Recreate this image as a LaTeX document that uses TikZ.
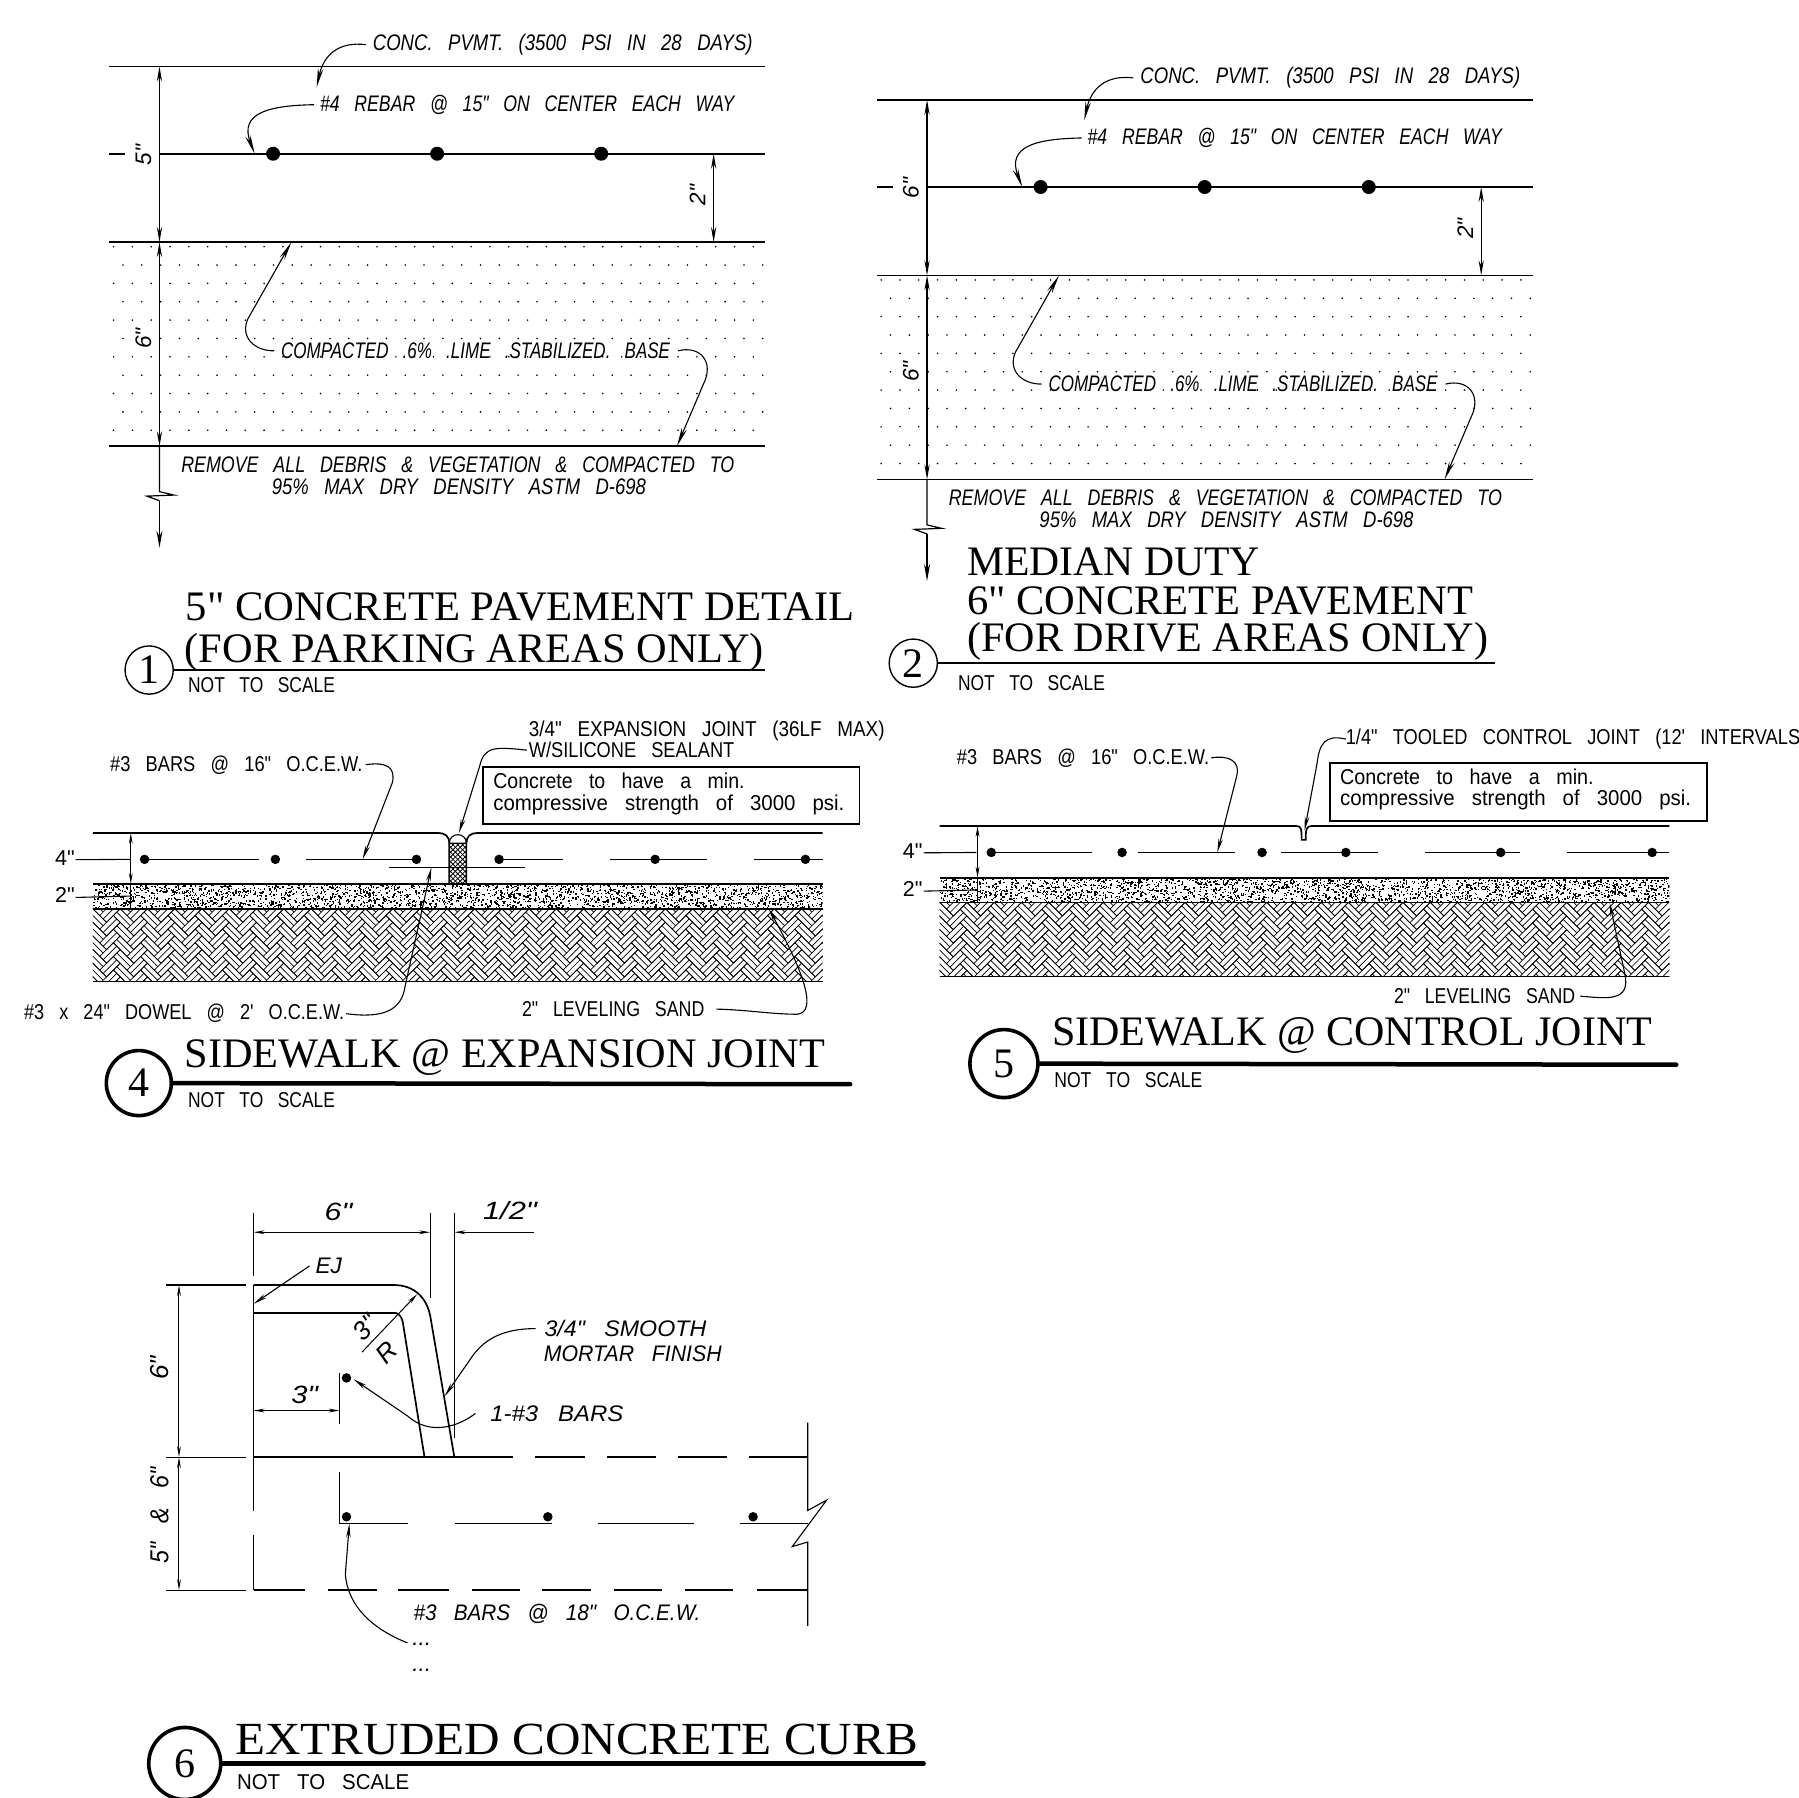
\documentclass[tikz,border=0pt]{standalone}
\usepackage{graphicx}
\usepackage{fontspec}
\usetikzlibrary{arrows.meta}
\newfontfamily\cad[WordSpace=3]{Liberation Sans}
\newfontfamily\ttlf{Liberation Serif}
\newlength\ovu \setlength\ovu{1.1473pt}
\newcommand\W[2]{\resizebox{#1\ovu}{\height}{#2}}
\tikzset{
  main/.style={line width=1.7pt},
  thin line/.style={line width=1.1pt},
  heavy/.style={line width=2.2pt},
  titlebar/.style={line width=4.5pt,line cap=round},
  dimn/.style={line width=1pt,{Stealth[length=11pt,width=3.8pt]}-{Stealth[length=11pt,width=3.8pt]}},
  dimend/.style={line width=1pt,-{Stealth[length=11pt,width=3.8pt]}},
  bigdim/.style={line width=1.2pt,{Stealth[length=15pt,width=5.2pt]}-{Stealth[length=15pt,width=5.2pt]}},
  bigdimend/.style={line width=1.2pt,-{Stealth[length=17pt,width=6pt]}},
  ldr/.style={line width=1.1pt,-{Stealth[length=19pt,width=5.5pt]}},
  ldrs/.style={line width=1.1pt,-{Stealth[length=14pt,width=4.5pt]}},
  it/.style={inner sep=0,outer sep=0,anchor=base west,font=\cad\itshape\fontsize{22.5}{24}\selectfont},
  bigit/.style={inner sep=0,outer sep=0,anchor=base west,font=\cad\itshape\fontsize{25}{26}\selectfont},
  up/.style={inner sep=0,outer sep=0,anchor=base west,font=\cad\fontsize{21.5}{24}\selectfont},
  rot/.style={inner sep=0,outer sep=0,rotate=90,font=\cad\itshape\fontsize{22.5}{24}\selectfont},
  bigrot/.style={inner sep=0,outer sep=0,rotate=90,font=\cad\itshape\fontsize{26}{28}\selectfont},
  ttl/.style={inner sep=0,outer sep=0,anchor=base west,font=\ttlf\fontsize{42}{44}\selectfont},
  bubble/.style={circle,draw,inner sep=0,minimum size=48.2pt,line width=1.4pt,font=\ttlf\fontsize{42}{44}\selectfont},
  bigbubble/.style={circle,draw,inner sep=0,minimum size=67pt,line width=3.6pt,font=\ttlf\fontsize{42}{44}\selectfont},
  rebar/.style={circle,fill,inner sep=0,minimum size=9.5pt},
  bigrebar/.style={circle,fill,inner sep=0,minimum size=14pt},
}
% slab layers: x0, band top, band bottom, hatch bottom
\newcommand\slablayers[4]{%
  \begin{scope}
    \clip (#1,#2) rectangle ++(636,#3-#2);
    \foreach \k in {1,...,2600}{\fill (#1+rnd*636,#2+rnd*22) rectangle +(1.2,1.2);}
  \end{scope}
  \begin{scope}
    \clip (#1,#3) rectangle ++(636,#4-#3);
    \begin{scope}[shift={(#1,#3)},rotate=-45]
      \foreach \i in {-2,...,7}{\foreach \j in {-2,...,28}{%
        \pgfmathsetmacro\uu{(2*\i+4*\j)*4.2}\pgfmathsetmacro\vv{(2*\i-4*\j)*4.2}%
        \draw[line width=.7pt] (\uu,\vv) rectangle +(16.8,8.4) (\uu,\vv+4.2) -- +(16.8,0)
          (\uu+16.8,\vv-8.4) rectangle +(8.4,16.8) (\uu+21,\vv-8.4) -- +(0,16.8);}}
    \end{scope}
  \end{scope}
  \draw[main] (#1,#2) -- ++(636,0) (#1,#3) -- ++(636,0) (#1,#4) -- ++(636,0);
}
% pavement section shared by details 1 and 2
\newcommand\pavedetail[1]{%
  \foreach \r in {0,...,10}{\pgfmathsetmacro\off{mod(\r,2)*8.2}%
    \foreach \c in {0,...,34}{\fill (99+\off+16.4*\c,215+16*\r) circle (.9pt);}}
  \draw[main] (95,58) -- (667,58) (95,211) -- (667,211) (95,389) -- (667,389) (95,134) -- (109,134) (139,134) -- (667,134);
  \node[bigrebar] (d1) at (238,134) {};
  \node[bigrebar] (d2) at (381,134) {};
  \node[bigrebar] (d3) at (524,134) {};
  \coordinate (dA) at (139,58); \coordinate (dB) at (139,211); \coordinate (dC) at (139,389);
  \coordinate (dD) at (139,477.4); \coordinate (e1) at (622,134); \coordinate (e2) at (622,211);
  \draw[bigdim] (dA) -- (dB);
  \draw[bigdim] (dB) -- (dC);
  \draw[line width=1.2pt] (dC) -- (139,428.5) -- (151.7,431.5) -- (128,432.4) -- (139,436.4);
  \draw[bigdimend] (139,436.4) -- (dD);
  \draw[bigdim] (e1) -- (e2);
  \node[rot] (l5) at (125,135) {#1};
  \node[rot] (l6) at (125,295) {6"};
  \node[rot] (l2) at (608,170) {2"};
  \node[it] (conc) at (325,44) {\W{331}{CONC. PVMT. (3500 PSI IN 28 DAYS)}};
  \node[it] (reb) at (279,97) {\W{361}{\#4 REBAR @ 15" ON CENTER EACH WAY}};
  \node[it] (comp) at (245,312.5) {\W{339}{COMPACTED .6\% .LIME .STABILIZED. BASE}};
  \node[it] (rem) at (158,411.5) {\W{482}{REMOVE ALL DEBRIS \& VEGETATION \& COMPACTED TO}};
  \node[it] (rem2) at (237,431) {\W{326}{95\% MAX DRY DENSITY ASTM D-698}};
  \coordinate (t1) at (276,76); \coordinate (t2) at (222,134);
  \coordinate (t3) at (254,211); \coordinate (t4) at (590,389);
  \draw[ldr] ([xshift=-7pt]conc.west) .. controls (295,36) and (282,48) .. (t1);
  \draw[ldr] ([xshift=-6pt]reb.west) .. controls (235,92) and (208,98) .. (t2);
  \draw[ldr] ([xshift=-7pt]comp.west) .. controls (222,306) and (209,294) .. (216,278) -- (t3);
  \draw[ldr] ([xshift=8pt]comp.east) .. controls (610,301) and (623,315) .. (613,335) -- (t4);
}
\begin{document}
\begin{tikzpicture}[x=1.1473pt,y=-1.1473pt]
\useasboundingbox (0,0) rectangle (1568,1567);
\clip (0,0) rectangle (1568,1567);
\pgfmathsetseed{4711}

%%% Detail 1
\begin{scope}[name prefix=a-]\pavedetail{5"}\end{scope}
\node[ttl] (t1a) at (162,541) {\W{583}{5" CONCRETE PAVEMENT DETAIL}};
\node[ttl] (t1b) at (161,577) {\W{505}{(FOR PARKING AREAS ONLY)}};
\node[bubble] (b1) at (130,584) {1};
\coordinate (b1e) at (667,584);
\draw[heavy] (b1) -- (b1e);
\node[up] (n1) at (164,604) {\W{128}{NOT TO SCALE}};

%%% Detail 2
\begin{scope}[shift={(669,29)},name prefix=b-]\pavedetail{6"}\end{scope}
\node[ttl] (t2a) at (843,502) {\W{255}{MEDIAN DUTY}};
\node[ttl] (t2b) at (843,536) {\W{441}{6" CONCRETE PAVEMENT}};
\node[ttl] (t2c) at (843,568) {\W{454}{(FOR DRIVE AREAS ONLY)}};
\node[bubble] (b2) at (796,578) {2};
\coordinate (b2e) at (1303,578);
\draw[heavy] (b2) -- (b2e);
\node[up] (n2) at (835,602) {\W{128}{NOT TO SCALE}};

%%% Detail 4
\slablayers{81}{770.5}{792}{855.5}
\draw[main] (81,726) -- (382,726) .. controls (388,726) and (391.6,729) .. (391.6,735) -- (391.6,770);
\draw[main] (717,726) -- (416,726) .. controls (410,726) and (406.5,729) .. (406.5,735) -- (406.5,770);
\draw[thin line] (391.6,735) .. controls (391.6,725) and (406.5,725) .. (406.5,735) -- cycle;
\begin{scope}
  \clip (391.6,735) rectangle (406.5,770);
  \foreach \k in {-4,...,12}{\draw[line width=.8pt] (385,735+\k*4.2) -- ++(28,28) (413,735+\k*4.2) -- ++(-28,28);}
\end{scope}
\draw[main] (126,749) -- (226,749) (267,749) -- (367,749) (435,749) -- (491,749) (532,749) -- (616,749) (657,749) -- (717,749);
\draw[main] (339,756) -- (458,756);
\foreach \n/\x in {a/126,b/240,c/363,d/435,e/571,f/702}{\node[rebar] (r4\n) at (\x,749) {};}
\coordinate (f1) at (114,726); \coordinate (f2) at (114,770.5);
\draw[dimn] (f1) -- (f2);
\draw[thin line] (114,770.5) -- (114,792);
\node[up] (f4) at (48,754) {4"};
\node[up] (f22) at (48,787) {2"};
\draw[thin line] (f4.east) ++(1pt,-2pt) -- (114,749);
\draw[thin line] (f22.east) ++(1pt,-2pt) -- (114,781);
\node[up] (g1) at (96,672) {\W{220}{\#3 BARS @ 16" O.C.E.W.}};
\node[up] (g2) at (461,642) {\W{310}{3/4" EXPANSION JOINT (36LF MAX)}};
\node[up] (g3) at (461,660.5) {\W{179}{W/SILICONE SEALANT}};
\draw[main] (421,668.5) rectangle (749,718);
\node[up] (g4) at (430,687) {\W{219}{Concrete to have a min.}};
\node[up] (g5) at (430,706) {\W{306}{compressive strength of 3000 psi.}};
\node[up] (g6) at (21,889) {\W{279}{\#3 x 24" DOWEL @ 2' O.C.E.W.}};
\node[up] (g7) at (455,886) {\W{159}{2" LEVELING SAND}};
\coordinate (h1) at (316,749); \coordinate (h2) at (400,726); \coordinate (h3) at (376,756); \coordinate (h4) at (670,792);
\draw[ldrs] ([xshift=3pt]g1.east) .. controls (336,664) and (345,668) .. (342,682) -- (h1);
\draw[ldrs] ([xshift=-2pt]g3.west) .. controls (432,651) and (422,650) .. (418,668) -- (h2);
\draw[ldrs] ([xshift=2pt]g6.east) .. controls (335,888) and (350,880) .. (353,860) -- (h3);
\draw[ldrs] ([xshift=12pt]g7.east) .. controls (650,880) and (672,884) .. (695,884) .. controls (712,882) and (702,850) .. (h4);
\node[ttl] (t4) at (161,930) {\W{558}{SIDEWALK @ EXPANSION JOINT}};
\node[bigbubble,minimum size=65pt] (b4) at (121,944) {4};
\coordinate (b4e) at (741,945);
\draw[titlebar] (b4) -- (b4e);
\node[up] (n4) at (164,965.5) {\W{128}{NOT TO SCALE}};

%%% Detail 5
\slablayers{819}{765}{786.5}{851}
\draw[main] (819,720) -- (1130,720) .. controls (1134,720) and (1134.5,722) .. (1134.5,732) -- (1138,732) .. controls (1138,722) and (1139,720) .. (1143,720) -- (1455,720);
\draw[main] (864,743) -- (952,743) (991.5,743) -- (1076,743) (1116.5,743) -- (1201,743) (1241.6,743) -- (1325,743) (1366,743) -- (1455,743);
\foreach \n/\x in {a/864,b/978,c/1100,d/1173,e/1308,f/1440}{\node[rebar] (r5\n) at (\x,743) {};}
\coordinate (i1) at (852,720); \coordinate (i2) at (852,765);
\draw[dimn] (i1) -- (i2);
\draw[thin line] (852,765) -- (852,786.5);
\node[up] (i4) at (787,748) {4"};
\node[up] (i22) at (787,781.5) {2"};
\draw[thin line] (i4.east) ++(1pt,-2pt) -- (851,743);
\draw[thin line] (i22.east) ++(1pt,-2pt) -- (851,775.7);
\node[up] (j1) at (834,666) {\W{220}{\#3 BARS @ 16" O.C.E.W.}};
\node[up] (j2) at (1173,649) {\W{396}{1/4" TOOLED CONTROL JOINT (12' INTERVALS}};
\draw[main] (1159,665) rectangle (1487.5,715.6);
\node[up] (j4) at (1168,684) {\W{221}{Concrete to have a min.}};
\node[up] (j5) at (1168,702.4) {\W{306}{compressive strength of 3000 psi.}};
\node[up] (j7) at (1215,874.7) {\W{158}{2" LEVELING SAND}};
\coordinate (k1) at (1061,743); \coordinate (k2) at (1137,724); \coordinate (k4) at (1403,787);
\draw[ldrs] ([xshift=2pt]j1.east) .. controls (1072,658) and (1081,664) .. (1078,676) -- (k1);
\draw[ldrs] (j2.west) .. controls (1155,640) and (1150,648) .. (1148,665) -- (k2);
\draw[ldrs] ([xshift=5pt]j7.east) .. controls (1400,870) and (1422,874) .. (1416,848) -- (k4);
\node[ttl] (t5) at (917,911) {\W{523}{SIDEWALK @ CONTROL JOINT}};
\node[bigbubble,minimum size=68pt] (b5) at (875,927) {5};
\coordinate (b5e) at (1461,928);
\draw[titlebar] (b5) -- (b5e);
\node[up] (n5) at (919,948) {\W{129}{NOT TO SCALE}};

%%% Detail 6
\draw[thin line] (221,1057) -- (221,1112) (375,1057) -- (375,1131) (396,1057) -- (396,1253);
\draw[thin line] (145,1120) -- (214,1120) (145,1270) -- (214,1270) (145,1386) -- (214,1386);
\draw[main] (221,1120) -- (343,1120) .. controls (362,1120) and (372,1132) .. (375,1147) -- (396,1270);
\draw[main] (221,1144.4) -- (345,1144.4) .. controls (348,1145) and (350,1148) .. (351,1152) -- (370,1270);
\draw[main] (221,1120) -- (221,1317) (221,1338) -- (221,1386);
\draw[main] (221,1270) -- (446.7,1270) (466.4,1270) -- (509.6,1270) (529,1270) -- (572,1270) (590.6,1270) -- (634,1270) (652.6,1270) -- (704,1270);
\draw[main] (221,1386) -- (266,1386) (285.5,1386) -- (329,1386) (347,1386) -- (391,1386) (411,1386) -- (453,1386) (472.6,1386) -- (515,1386) (535,1386) -- (577.4,1386) (597,1386) -- (639,1386) (660,1386) -- (704,1386);
\draw[thin line] (704,1240) -- (704,1316.5) -- (720.5,1307.5) -- (690.5,1348) -- (704,1344) -- (704,1417);
\draw[thin line] (296,1197) -- (296,1241.5);
\draw[thin line] (296,1283) -- (296,1327.5) -- (356,1327.5) (396.5,1327.5) -- (481,1327.5) (521,1327.5) -- (605,1327.5) (645,1327.5) -- (704,1327.5);
\node[rebar] (r6a) at (302,1201) {};
\node[rebar] (r6b) at (302,1322) {};
\node[rebar] (r6c) at (477.5,1322) {};
\node[rebar] (r6d) at (656.4,1322) {};
\coordinate (m1) at (221,1074); \coordinate (m2) at (375,1074); \coordinate (m3) at (465,1074); \coordinate (m4) at (396,1074);
\draw[dimn] (m1) -- (m2);
\draw[dimend] (m3) -- (m4);
\coordinate (m5) at (156,1120); \coordinate (m6) at (156,1270); \coordinate (m7) at (156,1386);
\draw[dimn] (m5) -- (m6);
\draw[dimn] (m6) -- (m7);
\coordinate (m8) at (221,1229.4); \coordinate (m9) at (296,1229.4);
\draw[dimn] (m8) -- (m9);
\coordinate (m10) at (315.5,1178.5); \coordinate (m11) at (363.6,1128);
\draw[dimend] (m10) -- (m11);
\node[bigit] (q1) at (283,1064) {\W{24}{6"}};
\node[bigit] (q2) at (421,1063) {\W{47}{1/2"}};
\node[it] (q3) at (275,1110) {\W{23}{EJ}};
\node[bigit] (q4) at (254,1223) {\W{23}{3"}};
\node[bigrot] (q5) at (139,1192) {6"};
\node[bigrot] (q6) at (139,1321) {\W{84}{5" \& 6"}};
\node[bigrot,rotate=-44] (q7) at (318,1157) {3"};
\node[bigrot,rotate=-44] (q8) at (337,1179) {R};
\node[it] (q9) at (474.6,1165) {\W{141}{3/4" SMOOTH}};
\node[it] (q10) at (474,1187) {\W{155}{MORTAR FINISH}};
\node[it] (q11) at (427.4,1238.7) {\W{116}{1-\#3 BARS}};
\node[it] (q12) at (360.4,1412.5) {\W{250}{\#3 BARS @ 18" O.C.E.W.}};
\node[it] (q13) at (359.5,1434) {...};
\node[it] (q14) at (359.5,1457) {...};
\coordinate (s1) at (221,1136.5); \coordinate (s2) at (387.5,1217); \coordinate (s3) at (308,1202); \coordinate (s4) at (304.5,1328);
\draw[ldrs] ([xshift=-6pt]q3.west) -- (s1);
\draw[ldrs] ([xshift=-9pt]q9.west) .. controls (432,1158) and (418,1172) .. (409,1186) -- (s2);
\draw[ldrs] ([xshift=-15pt]q11.west) .. controls (400,1243) and (375,1252) .. (355,1234) -- (s3);
\draw[ldrs] ([xshift=-5pt]q13.north west) .. controls (325,1420) and (303,1400) .. (301,1372) -- (s4);
\node[ttl,font=\ttlf\fontsize{46}{48}\selectfont] (t6) at (205,1529) {\W{595}{EXTRUDED CONCRETE CURB}};
\node[bigbubble,minimum size=72pt] (b6) at (161,1537) {6};
\coordinate (b6e) at (805,1537);
\draw[titlebar] (b6) -- (b6e);
\node[up] (n6) at (206.6,1560) {\W{150}{NOT TO SCALE}};
\end{tikzpicture}
\end{document}
